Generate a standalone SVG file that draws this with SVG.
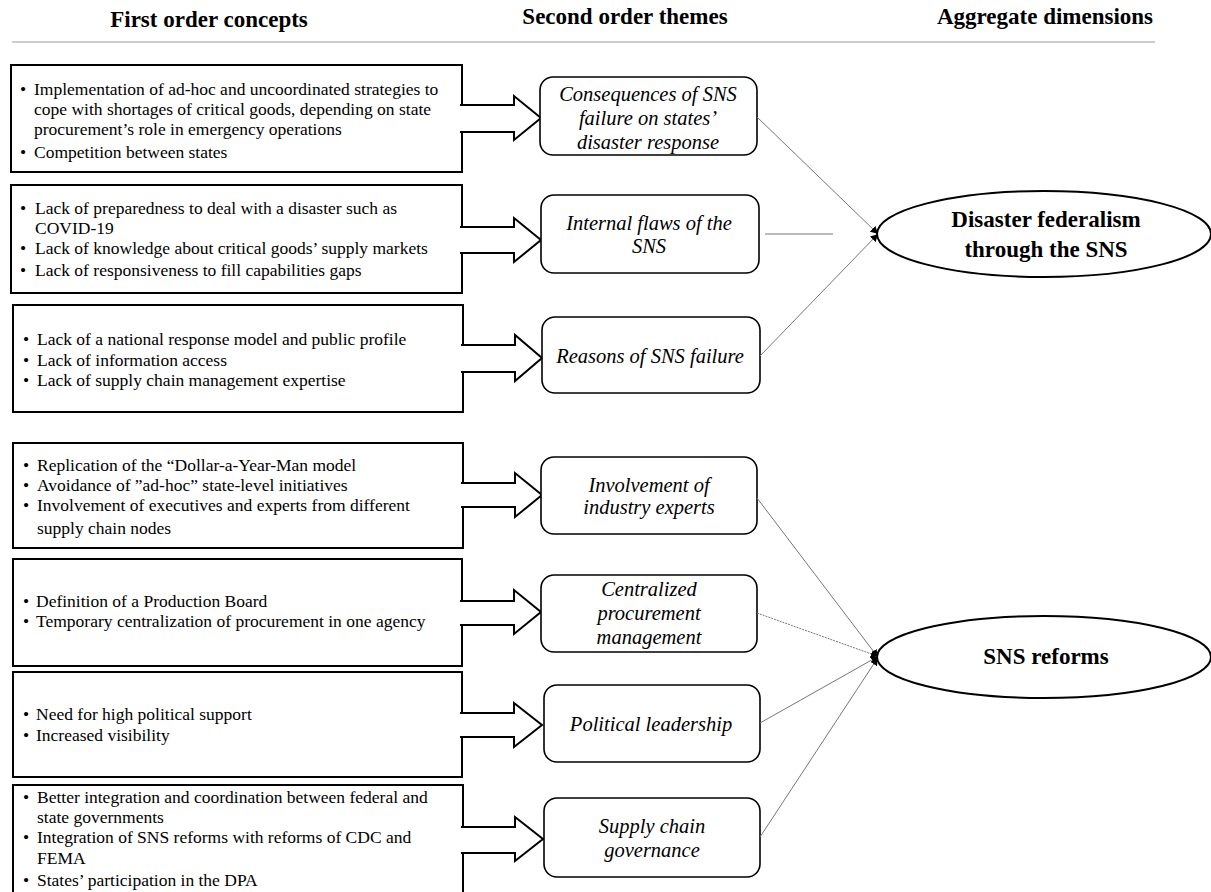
<svg xmlns="http://www.w3.org/2000/svg" width="1211" height="892" viewBox="0 0 1211 892">
<style>
.hdr{font-family:"Liberation Serif","Times New Roman",serif;font-weight:bold;font-size:23px;text-anchor:middle;fill:#000}
.b{font-family:"Liberation Serif","Times New Roman",serif;font-size:17.5px;fill:#000}
.th{font-family:"Liberation Serif","Times New Roman",serif;font-style:italic;font-size:20.5px;text-anchor:middle;fill:#000}
.ag{font-family:"Liberation Serif","Times New Roman",serif;font-weight:bold;font-size:23px;text-anchor:middle;fill:#000}
.box{fill:#fff;stroke:#000;stroke-width:2}
.tbox{fill:#fff;stroke:#000;stroke-width:1.6}
.arr{fill:#fff;stroke:#000;stroke-width:2;stroke-linejoin:miter}
.ell{fill:#fff;stroke:#000;stroke-width:2}
.con{stroke:#777;stroke-width:1;fill:none}
</style>
<defs>
<marker id="ah" markerWidth="7" markerHeight="8" refX="6" refY="4" orient="auto" markerUnits="userSpaceOnUse">
<path d="M0,0 L7,4 L0,8 Z" fill="#000"/>
</marker>
</defs>
<rect width="1211" height="892" fill="#fff"/>
<g id="headers">
<text class="hdr" x="209" y="27">First order concepts</text>
<text class="hdr" x="625" y="24">Second order themes</text>
<text class="hdr" x="1045" y="24">Aggregate dimensions</text>
<line x1="12" y1="42" x2="1155" y2="42" stroke="#999" stroke-width="1"/>
</g>

<g id="c1">
<rect class="box" x="11" y="65" width="451" height="107"/>
<text class="b"><tspan x="20" y="95">•</tspan><tspan x="34" y="95">Implementation of ad-hoc and uncoordinated strategies to</tspan><tspan x="34" y="115">cope with shortages of critical goods, depending on state</tspan><tspan x="34" y="135">procurement’s role in emergency operations</tspan><tspan x="20" y="158">•</tspan><tspan x="34" y="158">Competition between states</tspan></text>
</g>
<g id="c2">
<rect class="box" x="11" y="185" width="451" height="108"/>
<text class="b"><tspan x="20" y="214">•</tspan><tspan x="35" y="214">Lack of preparedness to deal with a disaster such as</tspan><tspan x="35" y="234">COVID-19</tspan><tspan x="20" y="254">•</tspan><tspan x="35" y="254">Lack of knowledge about critical goods’ supply markets</tspan><tspan x="20" y="276">•</tspan><tspan x="35" y="276">Lack of responsiveness to fill capabilities gaps</tspan></text>
</g>
<g id="c3">
<rect class="box" x="13" y="305" width="450" height="107"/>
<text class="b"><tspan x="23" y="345">•</tspan><tspan x="37" y="345">Lack of a national response model and public profile</tspan><tspan x="23" y="366">•</tspan><tspan x="37" y="366">Lack of information access</tspan><tspan x="23" y="386">•</tspan><tspan x="37" y="386">Lack of supply chain management expertise</tspan></text>
</g>
<g id="c4">
<rect class="box" x="13" y="443" width="450" height="105"/>
<text class="b"><tspan x="23" y="471">•</tspan><tspan x="37" y="471">Replication of the “Dollar-a-Year-Man model</tspan><tspan x="23" y="491">•</tspan><tspan x="37" y="491">Avoidance of ”ad-hoc” state-level initiatives</tspan><tspan x="23" y="511">•</tspan><tspan x="37" y="511">Involvement of executives and experts from different</tspan><tspan x="37" y="534">supply chain nodes</tspan></text>
</g>
<g id="c5">
<rect class="box" x="13" y="559" width="449" height="107"/>
<text class="b"><tspan x="23" y="607">•</tspan><tspan x="36" y="607">Definition of a Production Board</tspan><tspan x="23" y="627">•</tspan><tspan x="36" y="627">Temporary centralization of procurement in one agency</tspan></text>
</g>
<g id="c6">
<rect class="box" x="13" y="672" width="449" height="105"/>
<text class="b"><tspan x="23" y="720">•</tspan><tspan x="36" y="720">Need for high political support</tspan><tspan x="23" y="741">•</tspan><tspan x="36" y="741">Increased visibility</tspan></text>
</g>
<g id="c7">
<rect class="box" x="13" y="785" width="450" height="120"/>
<text class="b"><tspan x="23" y="803">•</tspan><tspan x="37" y="803">Better integration and coordination between federal and</tspan><tspan x="37" y="823">state governments</tspan><tspan x="23" y="843">•</tspan><tspan x="37" y="843">Integration of SNS reforms with reforms of CDC and</tspan><tspan x="37" y="864">FEMA</tspan><tspan x="23" y="886">•</tspan><tspan x="37" y="886">States’ participation in the DPA</tspan></text>
</g>

<g id="blockarrows">
<path class="arr" d="M460,105 H514 V96 L541,118 L514,140 V132 H460"/>
<path class="arr" d="M460,227 H514 V218 L541,240 L514,262 V253 H460"/>
<path class="arr" d="M461,345 H515 V335 L542,358 L515,381 V372 H461"/>
<path class="arr" d="M461,483 H515 V473 L542,495 L515,517 V507 H461"/>
<path class="arr" d="M460,601 H514 V590 L541,612 L514,634 V625 H460"/>
<path class="arr" d="M460,713 H514 V703 L542,725 L514,747 V737 H460"/>
<path class="arr" d="M461,827 H515 V817 L543,839 L515,861 V853 H461"/>
</g>

<g id="t1">
<rect class="tbox" x="540" y="77" width="217" height="78" rx="13"/>
<text class="th"><tspan x="648" y="101">Consequences of SNS</tspan><tspan x="648" y="125">failure on states’</tspan><tspan x="648" y="149">disaster response</tspan></text>
</g>
<g id="t2">
<rect class="tbox" x="541" y="195" width="218" height="78" rx="13"/>
<text class="th"><tspan x="649" y="230">Internal flaws of the</tspan><tspan x="649" y="253">SNS</tspan></text>
</g>
<g id="t3">
<rect class="tbox" x="542" y="317" width="218" height="76" rx="13"/>
<text class="th" x="650" y="363">Reasons of SNS failure</text>
</g>
<g id="t4">
<rect class="tbox" x="541" y="457" width="216" height="77" rx="13"/>
<text class="th"><tspan x="649" y="492">Involvement of</tspan><tspan x="649" y="514">industry experts</tspan></text>
</g>
<g id="t5">
<rect class="tbox" x="541" y="575" width="216" height="77" rx="13"/>
<text class="th"><tspan x="649" y="596">Centralized</tspan><tspan x="649" y="620">procurement</tspan><tspan x="649" y="644">management</tspan></text>
</g>
<g id="t6">
<rect class="tbox" x="544" y="685" width="216" height="77" rx="13"/>
<text class="th" x="651" y="731">Political leadership</text>
</g>
<g id="t7">
<rect class="tbox" x="544" y="798" width="216" height="79" rx="13"/>
<text class="th"><tspan x="652" y="833">Supply chain</tspan><tspan x="652" y="857">governance</tspan></text>
</g>

<g id="a1">
<ellipse class="ell" cx="1044" cy="234" rx="167" ry="43"/>
<text class="ag"><tspan x="1046" y="227">Disaster federalism</tspan><tspan x="1046" y="257">through the SNS</tspan></text>
</g>
<g id="a2">
<ellipse class="ell" cx="1044" cy="657" rx="167" ry="41"/>
<text class="ag" x="1046" y="664">SNS reforms</text>
</g>

<g id="connectors">
<line class="con" x1="757" y1="117" x2="877" y2="233" marker-end="url(#ah)"/>
<line class="con" x1="765" y1="234" x2="833" y2="234"/>
<line class="con" x1="760" y1="356" x2="877" y2="235" marker-end="url(#ah)"/>
<line class="con" x1="757" y1="498" x2="877" y2="656" marker-end="url(#ah)"/>
<line class="con" x1="757" y1="613" x2="877" y2="656" stroke-dasharray="2,1" marker-end="url(#ah)"/>
<line class="con" x1="760" y1="723" x2="877" y2="657" marker-end="url(#ah)"/>
<line class="con" x1="760" y1="837" x2="877" y2="659" marker-end="url(#ah)"/>
</g>
</svg>
